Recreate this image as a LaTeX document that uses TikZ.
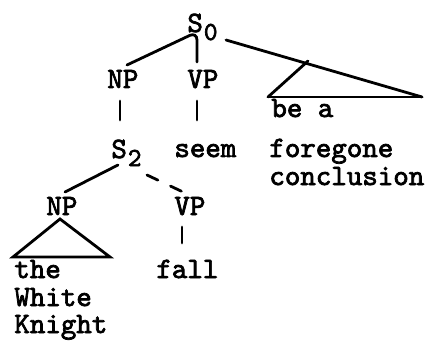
\documentclass[tikz,border=0pt]{standalone}
\usepackage{fontspec}
\newfontfamily\treefont[FakeBold=2.5]{lmmono10-regular.otf}
\newcommand\lowsub[1]{\kern1pt\raisebox{-8pt}{\fontsize{26}{26}\selectfont #1}}

\begin{document}
\begin{tikzpicture}
  [x=1pt,y=-1pt,line width=2.8pt,line cap=round,
   every node/.style={inner sep=0pt,anchor=base west,
     font=\treefont\fontsize{29.5}{30}\selectfont}]
  \useasboundingbox (0,0) rectangle (428,350);

  \node (s0) at (186,32) {S\lowsub{0}};
  \node (np1) at (106,88) {NP};
  \node (vp1) at (186,88) {VP};
  \node (bea) at (270,117) {be a};
  \node (s2) at (110,158) {S\lowsub{2}};
  \node (seem) at (173,157) {seem};
  \node (fore) at (268,157) {foregone};
  \node (concl) at (268,185) {conclusion};
  \node (np2) at (45,215) {NP};
  \node (vp2) at (173,215) {VP};
  \node (the) at (13,278) {the};
  \node (white) at (13,306) {White};
  \node (knight) at (13,333) {Knight};
  \node (fall) at (155,278) {fall};

  % connector ends
  \coordinate (s0top) at ([shift={(11,0)}]s0.base west);
  \coordinate (s0r) at ([shift={(40,8)}]s0.base west);
  \coordinate (np1t) at ([shift={(21,-23)}]np1.base west);
  \coordinate (np1b) at ([shift={(14,13)}]np1.base west);
  \coordinate (vp1t) at ([shift={(11,-26)}]vp1.base west);
  \coordinate (vp1b) at ([shift={(11,13)}]vp1.base west);
  \coordinate (s2t) at ([shift={(10,-38)}]s2.base west);
  \coordinate (s2l) at ([shift={(8,7)}]s2.base west);
  \coordinate (s2r) at ([shift={(37,17)}]s2.base west);
  \coordinate (seemt) at ([shift={(24,-37)}]seem.base west);
  \coordinate (np2t) at ([shift={(20,-23)}]np2.base west);
  \coordinate (np2b) at ([shift={(15,4)}]np2.base west);
  \coordinate (vp2t) at ([shift={(10,-23)}]vp2.base west);
  \coordinate (vp2b) at ([shift={(9,12)}]vp2.base west);
  \coordinate (fallt) at ([shift={(27,-35)}]fall.base west);
  \coordinate (tri1a) at ([shift={(38,-56)}]bea.base west);
  \coordinate (tri1l) at ([shift={(-2,-20)}]bea.base west);
  \coordinate (tri1r) at ([shift={(152,-20)}]bea.base west);
  \coordinate (tri2l) at ([shift={(0,-21)}]the.base west);
  \coordinate (tri2r) at ([shift={(97,-21)}]the.base west);

  \draw[rounded corners=8pt] (np1t) -- (s0top) -- (vp1t);
  \foreach \from/\to in {s0r/tri1r,tri1a/tri1l,tri1l/tri1r,np1b/s2t,vp1b/seemt,s2l/np2t,vp2b/fallt}
    \draw (\from) -- (\to);
  \draw[dash pattern=on 12pt off 14pt] (s2r) -- (vp2t);
  \draw (np2b) -- (tri2l) -- (tri2r) -- cycle;

\end{tikzpicture}
\end{document}
